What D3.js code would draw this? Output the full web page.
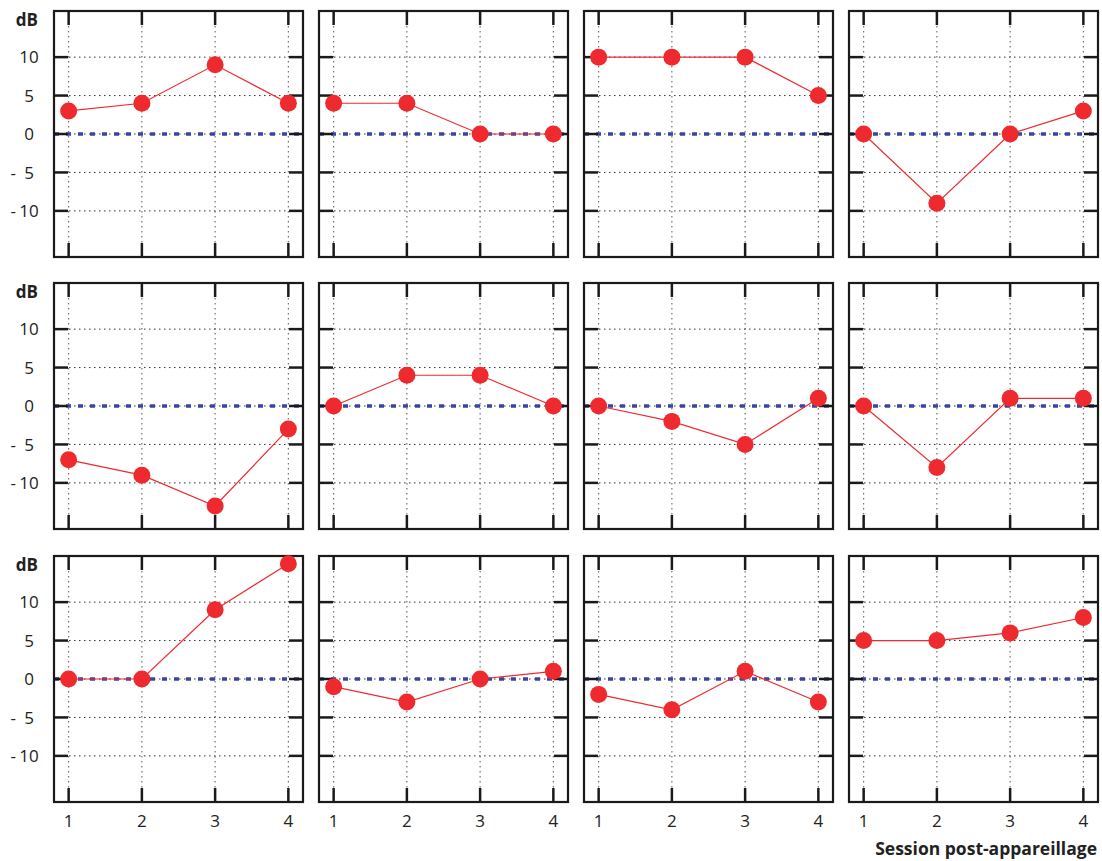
<!DOCTYPE html>
<html><head><meta charset="utf-8">
<script src="https://cdn.jsdelivr.net/npm/d3@7"></script>
<style>body{margin:0;background:#fff}svg{display:block}</style>
</head><body>
<script>
const sessions = [1, 2, 3, 4];
const yTickValues = [-10, -5, 0, 5, 10];
const yTickLabels = ["-10", "-5", "0", "5", "10"];
const panel1 = [3, 4, 9, 4];
const panel2 = [4, 4, 0, 0];
const panel3 = [10, 10, 10, 5];
const panel4 = [0, -9, 0, 3];
const panel5 = [-7, -9, -13, -3];
const panel6 = [0, 4, 4, 0];
const panel7 = [0, -2, -5, 1];
const panel8 = [0, -8, 1, 1];
const panel9 = [0, 0, 9, 15];
const panel10 = [-1, -3, 0, 1];
const panel11 = [-2, -4, 1, -3];
const panel12 = [5, 5, 6, 8];
const panels = [panel1, panel2, panel3, panel4, panel5, panel6, panel7, panel8, panel9, panel10, panel11, panel12];
const yUnit = "dB";
const xTitle = "Session post-appareillage";

const W = 1102, H = 861;
const svg = d3.select("body").append("svg").attr("width", W).attr("height", H);
const font = "'Open Sans', 'Noto Sans', sans-serif";

const colX0 = [54, 319, 584, 849], pw = 249;
const rowY0 = [11, 283, 556], ph = 246;

const x = d3.scaleLinear().domain([0.8, 4.2]).range([0, pw]);
const y = d3.scaleLinear().domain([-16, 16]).range([ph, 0]);

panels.forEach((vals, i) => {
  const r = Math.floor(i / 4), c = i % 4;
  const g = svg.append("g").attr("transform", `translate(${colX0[c]},${rowY0[r]})`);
  // grid
  g.selectAll(".vg").data(sessions).enter().append("line")
    .attr("x1", d => x(d)).attr("x2", d => x(d)).attr("y1", 0).attr("y2", ph)
    .attr("stroke", "#666").attr("stroke-width", 1.1).attr("stroke-dasharray", "1.5,3.5");
  g.selectAll(".hg").data(yTickValues).enter().append("line")
    .attr("x1", 0).attr("x2", pw).attr("y1", d => y(d)).attr("y2", d => y(d))
    .attr("stroke", "#333").attr("stroke-width", 1).attr("stroke-dasharray", "1.5,3.5");
  // zero line
  g.append("line").attr("x1", 0).attr("x2", pw).attr("y1", y(0)).attr("y2", y(0))
    .attr("stroke", "#3a45a0").attr("stroke-width", 3.5).attr("stroke-dasharray", "5,7");
  // ticks (inside, mirrored)
  const tl = 14;
  sessions.forEach(d => {
    g.append("line").attr("x1", x(d)).attr("x2", x(d)).attr("y1", 0).attr("y2", tl).attr("stroke", "#1a1a1a").attr("stroke-width", 2.5);
    g.append("line").attr("x1", x(d)).attr("x2", x(d)).attr("y1", ph).attr("y2", ph - tl).attr("stroke", "#1a1a1a").attr("stroke-width", 2.5);
  });
  yTickValues.forEach(d => {
    g.append("line").attr("x1", 0).attr("x2", tl).attr("y1", y(d)).attr("y2", y(d)).attr("stroke", "#1a1a1a").attr("stroke-width", 2.5);
    g.append("line").attr("x1", pw).attr("x2", pw - tl).attr("y1", y(d)).attr("y2", y(d)).attr("stroke", "#1a1a1a").attr("stroke-width", 2.5);
  });
  // border
  g.append("rect").attr("x", 0).attr("y", 0).attr("width", pw).attr("height", ph)
    .attr("fill", "none").attr("stroke", "#1a1a1a").attr("stroke-width", 2.2);
  // data line
  const line = d3.line().x((d, k) => x(sessions[k])).y(d => y(d));
  g.append("path").datum(vals).attr("d", line).attr("fill", "none").attr("stroke", "#ee2a2f").attr("stroke-width", 1.2);
  g.selectAll(".pt").data(vals).enter().append("circle")
    .attr("cx", (d, k) => x(sessions[k])).attr("cy", d => y(d)).attr("r", 8.5).attr("fill", "#ee2a2f");
  // y labels
  if (c === 0) {
    yTickValues.forEach((d, k) => {
      const lab = yTickLabels[k];
      const neg = lab.startsWith("-");
      const num = neg ? lab.slice(1) : lab;
      g.append("text").attr("x", -25).attr("y", y(d)).attr("dy", "0.36em").attr("text-anchor", "middle")
        .attr("font-family", font).attr("font-size", 17).attr("fill", "#222").text(num);
      if (neg) {
        g.append("text").attr("x", -38).attr("y", y(d)).attr("dy", "0.36em").attr("text-anchor", "end")
          .attr("font-family", font).attr("font-size", 17).attr("fill", "#222").text("-");
      }
    });
    g.append("text").attr("x", -16).attr("y", 9).attr("dy", "0.36em").attr("text-anchor", "end")
      .attr("font-family", font).attr("font-size", 17).attr("font-weight", "bold").attr("fill", "#222").text(yUnit);
  }
  if (r === 2) {
    sessions.forEach(d => {
      g.append("text").attr("x", x(d)).attr("y", ph + 25).attr("text-anchor", "middle")
        .attr("font-family", font).attr("font-size", 17).attr("fill", "#222").text(d);
    });
  }
});
svg.append("text").attr("x", 1097).attr("y", 855).attr("text-anchor", "end")
  .attr("font-family", font).attr("font-size", 17.5).attr("font-weight", "bold").attr("fill", "#222").text(xTitle);
</script>
</body></html>
